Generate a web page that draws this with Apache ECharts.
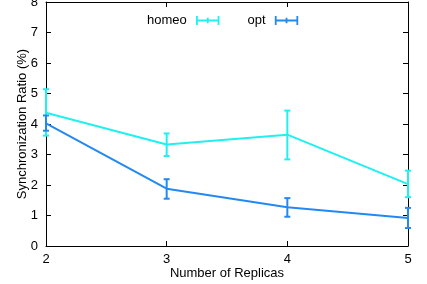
<!DOCTYPE html>
<html>
<head>
<meta charset="utf-8">
<script src="https://cdn.jsdelivr.net/npm/echarts@6/dist/echarts.min.js"></script>
<style>
  html, body { margin: 0; padding: 0; background: #fff; }
  #chart { width: 427px; height: 284px; }
</style>
</head>
<body>
<div id="chart"></div>
<script>
// replicas on the x axis
const replicas = [2, 3, 4, 5];

// mean synchronization ratio (%)
const homeoMean = [4.37, 3.33, 3.65, 2.03];
const homeoLow = [3.62, 2.95, 2.84, 1.60];
const homeoHigh = [5.14, 3.69, 4.44, 2.47];

const optMean = [4.02, 1.88, 1.27, 0.92];
const optLow = [3.78, 1.55, 0.96, 0.59];
const optHigh = [4.28, 2.19, 1.57, 1.25];

const homeoColor = '#1ff0f0';
const optColor = '#2289f2';

const chart = echarts.init(document.getElementById('chart'));

// error bar drawn as vertical segment + caps
const errorBar = (color) => (params, api) => {
  const x = api.value(0);
  const top = api.coord([x, api.value(2)]);
  const bot = api.coord([x, api.value(1)]);
  const cap = 3;
  const style = { stroke: color, lineWidth: 2 };
  return {
    type: 'group',
    children: [
      { type: 'line', shape: { x1: top[0], y1: top[1], x2: bot[0], y2: bot[1] }, style },
      { type: 'line', shape: { x1: top[0] - cap, y1: top[1], x2: top[0] + cap, y2: top[1] }, style },
      { type: 'line', shape: { x1: bot[0] - cap, y1: bot[1], x2: bot[0] + cap, y2: bot[1] }, style }
    ]
  };
};

const legendIcon = 'path://M0,4h26v2H0z M0,0h2v10H0z M24,0h2v10H24z M12,2h2v6H12z';

const axisLine = { show: true, onZero: false, lineStyle: { color: '#000', width: 1 } };
const axisTick = { show: true, inside: true, length: 5, lineStyle: { color: '#000' } };

const option = {
  animation: false,
  textStyle: { fontFamily: 'Liberation Sans, Arial, sans-serif' },
  legend: {
    left: 142,
    top: 9,
    align: 'right',
    itemWidth: 26,
    itemHeight: 9,
    itemGap: 28,
    textStyle: { fontSize: 13, color: '#000', padding: [0, 3, 0, 0] },
    data: [
      { name: 'homeo', icon: legendIcon, itemStyle: { color: homeoColor } },
      { name: 'opt', icon: legendIcon, itemStyle: { color: optColor } }
    ]
  },
  grid: { left: 46, right: 19, top: 2, bottom: 38, outerBoundsMode: 'none', containLabel: false },
  xAxis: [
    {
      type: 'value', min: 2, max: 5, interval: 1,
      name: 'Number of Replicas', nameLocation: 'middle', nameGap: 21, nameMoveOverlap: false,
      nameTextStyle: { fontSize: 13, color: '#000' },
      axisLine, axisTick,
      axisLabel: { fontSize: 13, color: '#000', margin: 7 },
      splitLine: { show: false }
    },
    {
      type: 'value', min: 2, max: 5, interval: 1, position: 'top',
      axisLine, axisTick, axisLabel: { show: false }, splitLine: { show: false }
    }
  ],
  yAxis: [
    {
      type: 'value', min: 0, max: 8, interval: 1,
      name: 'Synchronization Ratio (%)', nameLocation: 'middle', nameGap: 17, nameMoveOverlap: false,
      nameTextStyle: { fontSize: 13, color: '#000' },
      axisLine, axisTick,
      axisLabel: { fontSize: 13, color: '#000', margin: 8 },
      splitLine: { show: false }
    },
    {
      type: 'value', min: 0, max: 8, interval: 1, position: 'right',
      axisLine, axisTick, axisLabel: { show: false }, splitLine: { show: false }
    }
  ],
  series: [
    {
      name: 'homeo', type: 'line', symbol: 'none',
      lineStyle: { color: homeoColor, width: 2 }, itemStyle: { color: homeoColor },
      data: replicas.map((r, i) => [r, homeoMean[i]])
    },
    {
      name: 'homeo', type: 'custom', renderItem: errorBar(homeoColor),
      itemStyle: { color: homeoColor },
      data: replicas.map((r, i) => [r, homeoLow[i], homeoHigh[i]]), z: 3
    },
    {
      name: 'opt', type: 'line', symbol: 'none',
      lineStyle: { color: optColor, width: 2 }, itemStyle: { color: optColor },
      data: replicas.map((r, i) => [r, optMean[i]])
    },
    {
      name: 'opt', type: 'custom', renderItem: errorBar(optColor),
      itemStyle: { color: optColor },
      data: replicas.map((r, i) => [r, optLow[i], optHigh[i]]), z: 3
    }
  ]
};

chart.setOption(option);
</script>
</body>
</html>
